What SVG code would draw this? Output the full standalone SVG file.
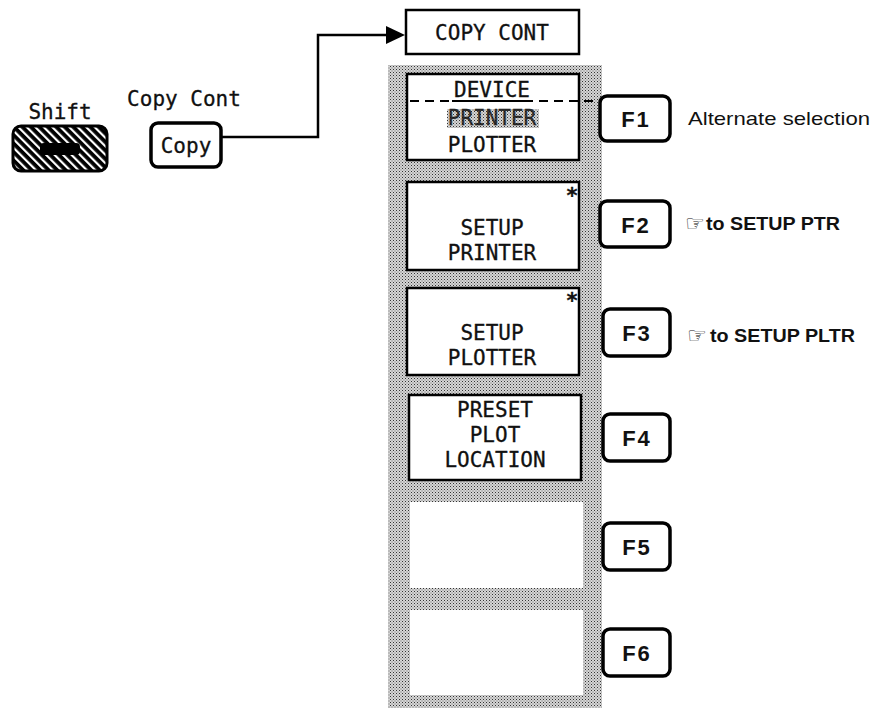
<svg xmlns="http://www.w3.org/2000/svg" width="879" height="712" viewBox="0 0 879 712">
<style>
.mono{font-family:"DejaVu Sans Mono","Liberation Mono",monospace;font-size:21px;fill:#111;stroke:#111;stroke-width:0.3;text-anchor:middle}
.box{fill:#fff;stroke:#000;stroke-width:2.5}
.fkey{fill:#fff;stroke:#000;stroke-width:3.5}
.fk{font-family:"Liberation Sans",Arial,sans-serif;font-weight:bold;font-size:22px;fill:#111;text-anchor:middle;letter-spacing:2px}
.lbl{font-family:"Liberation Sans",Arial,sans-serif;font-size:19px;fill:#111}
.lblb{font-family:"Liberation Sans",Arial,sans-serif;font-size:18px;font-weight:bold;fill:#111}
.hand{font-family:"DejaVu Sans",sans-serif;font-size:22px;fill:#111}
.conn{fill:none;stroke:#000;stroke-width:2.5}
.dash{stroke:#000;stroke-width:2.2;stroke-dasharray:9,6}
</style>
<defs>
<pattern id="stip" width="3" height="3" patternUnits="userSpaceOnUse">
<rect width="3" height="3" fill="#d6d6d6"/>
<rect x="0" y="0" width="1" height="1" fill="#333"/>
<rect x="1.5" y="1.5" width="1" height="1" fill="#666"/>
</pattern>
<pattern id="hatch" width="6" height="6" patternUnits="userSpaceOnUse" patternTransform="rotate(-45)">
<rect width="6" height="6" fill="#000"/>
<rect x="0" y="0" width="2.2" height="6" fill="#fff"/>
</pattern>
</defs>
<rect width="879" height="712" fill="#fff"/>

<g id="shift-key">
<text class="mono" x="60" y="119">Shift</text>
<rect x="13" y="126" width="94" height="45" rx="8" fill="url(#hatch)" stroke="#000" stroke-width="3"/>
<rect x="40" y="143" width="40" height="12" rx="4" fill="#000"/>
</g>

<g id="copy-key">
<text class="mono" x="184" y="106">Copy Cont</text>
<rect x="151" y="123" width="70" height="44" rx="7" class="fkey"/>
<text class="mono" x="186" y="153">Copy</text>
</g>

<g id="connectors">
<path class="conn" d="M221,137 H318 V35 H386"/>
<path d="M386,26 L405,35 L386,44 Z" fill="#000"/>
</g>

<g id="copy-cont">
<rect x="406" y="10" width="173" height="44" class="box"/>
<text class="mono" x="492" y="40">COPY CONT</text>
</g>

<g id="softkey-panel">
<rect x="388" y="65" width="214" height="643" fill="url(#stip)"/>
</g>

<g id="device">
<rect x="407" y="74" width="172" height="86" class="box"/>
<rect x="447" y="109" width="92" height="19" fill="url(#stip)"/>
<text class="mono" x="492" y="97">DEVICE</text>
<line x1="452" y1="101" x2="533" y2="101" stroke="#000" stroke-width="2.2"/>
<line x1="410" y1="101" x2="452" y2="101" class="dash"/>
<line x1="539" y1="101" x2="600" y2="101" class="dash"/>
<text class="mono" x="492" y="125" fill-opacity="0.85">PRINTER</text>
<text class="mono" x="492" y="152">PLOTTER</text>
</g>

<g id="setup-printer">
<rect x="407" y="182" width="172" height="88" class="box"/>
<text class="mono" x="572" y="203" style="font-weight:bold">*</text>
<text class="mono" x="492" y="235">SETUP</text>
<text class="mono" x="492" y="260">PRINTER</text>
</g>

<g id="setup-plotter">
<rect x="407" y="288" width="172" height="87" class="box"/>
<text class="mono" x="572" y="308" style="font-weight:bold">*</text>
<text class="mono" x="492" y="340">SETUP</text>
<text class="mono" x="492" y="365">PLOTTER</text>
</g>

<g id="preset-plot-location">
<rect x="409" y="395" width="172" height="85" class="box"/>
<text class="mono" x="495" y="417">PRESET</text>
<text class="mono" x="495" y="442">PLOT</text>
<text class="mono" x="495" y="467">LOCATION</text>
</g>

<g id="blank-5">
<rect x="410" y="502" width="173" height="86" fill="#fff"/>
</g>
<g id="blank-6">
<rect x="410" y="610" width="173" height="85" fill="#fff"/>
</g>

<g id="f1">
<rect x="600" y="96" width="70" height="45" rx="7" class="fkey"/>
<text class="fk" x="636" y="127">F1</text>
<text class="lbl" x="688" y="125" textLength="182" lengthAdjust="spacingAndGlyphs">Alternate selection</text>
</g>
<g id="f2">
<rect x="600" y="201" width="70" height="46" rx="7" class="fkey"/>
<text class="fk" x="636" y="233">F2</text>
<text class="hand" x="685" y="231">☞</text>
<text class="lblb" x="706" y="230" textLength="134" lengthAdjust="spacingAndGlyphs">to SETUP PTR</text>
</g>
<g id="f3">
<rect x="603" y="309" width="67" height="47" rx="7" class="fkey"/>
<text class="fk" x="637" y="341">F3</text>
<text class="hand" x="687" y="343">☞</text>
<text class="lblb" x="710" y="342" textLength="145" lengthAdjust="spacingAndGlyphs">to SETUP PLTR</text>
</g>
<g id="f4">
<rect x="603" y="414" width="67" height="47" rx="7" class="fkey"/>
<text class="fk" x="637" y="446">F4</text>
</g>
<g id="f5">
<rect x="603" y="523" width="67" height="47" rx="7" class="fkey"/>
<text class="fk" x="637" y="555">F5</text>
</g>
<g id="f6">
<rect x="603" y="629" width="67" height="47" rx="7" class="fkey"/>
<text class="fk" x="637" y="661">F6</text>
</g>
</svg>
